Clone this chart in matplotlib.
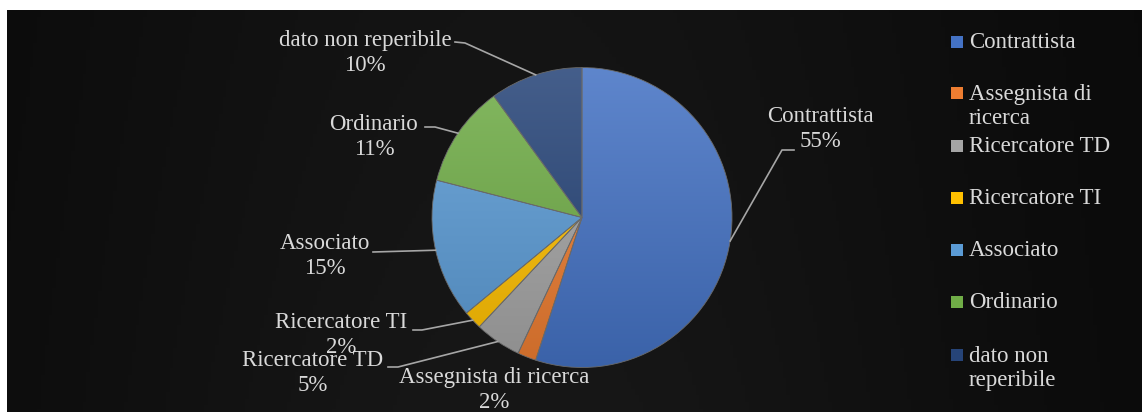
import numpy as np
import matplotlib.pyplot as plt
from matplotlib.colors import LinearSegmentedColormap, to_rgb
from matplotlib.patches import Rectangle

categories = ["Contrattista", "Assegnista di ricerca", "Ricercatore TD",
              "Ricercatore TI", "Associato", "Ordinario", "dato non reperibile"]
shares = [55, 2, 5, 2, 15, 11, 10]
legend_labels = ["Contrattista", "Assegnista di\nricerca", "Ricercatore TD",
                 "Ricercatore TI", "Associato", "Ordinario", "dato non\nreperibile"]
colors = ["#4472C4", "#ED7D31", "#A5A5A5", "#FFC000", "#5B9BD5", "#70AD47", "#264478"]

W, H = 1142, 412
def Y(y):
    # image pixel rows -> data y
    return H - y

txt_col = "#d9d9d9"
line_col = "#a6a6a6"
fs = 16.5
plt.rcParams['font.family'] = ['Liberation Serif', 'DejaVu Serif']

fig = plt.figure(figsize=(W / 100, H / 100), dpi=100)
ax = fig.add_axes([0, 0, 1, 1])
ax.axis('off')

# dark background panel with soft gradient
gx = np.linspace(0, 1, 300)
gy = np.linspace(0, 1, 120)
GX, GY = np.meshgrid(gx, gy)
val = 0.035 + 0.055 * np.exp(-((GX - 0.45) / 0.42) ** 2) * (0.8 + 0.2 * GY)
bg = np.dstack([val, val, val])
ax.imshow(bg, extent=[7, W, 0, Y(10)], aspect='auto', zorder=0, origin='upper')

# pie
cx, cy, r = 582, Y(217.5), 150
wedges, _ = ax.pie(shares, colors=colors, startangle=90, counterclock=False,
                   center=(cx, cy), radius=r,
                   wedgeprops=dict(linewidth=0.6, edgecolor='#6a6a6a'))

for w, c in zip(wedges, colors):
    base = np.array(to_rgb(c))
    top = base + (1 - base) * 0.14
    bot = base * 0.86
    cm = LinearSegmentedColormap.from_list('g', [top, bot])
    grad = np.linspace(0, 1, 256).reshape(-1, 1)
    im = ax.imshow(grad, cmap=cm, extent=[cx - r, cx + r, cy - r, cy + r],
                   aspect='auto', origin='upper', zorder=2)
    im.set_clip_path(w)
    w.set_facecolor('none')
    w.set_zorder(3)

# data labels: text centre (image px) and leader line bend points
label_pos = {
    "Contrattista": (820, 129),
    "Assegnista di ricerca": (494, 390),
    "Ricercatore TD": (313, 373),
    "Ricercatore TI": (341, 335),
    "Associato": (325, 256),
    "Ordinario": (374, 137),
    "dato non reperibile": (365, 53),
}
leader = {
    "Contrattista": [(794, 150), (782, 150)],
    "Ricercatore TD": [(388, 367), (398, 367)],
    "Ricercatore TI": [(413, 330), (422, 330)],
    "Associato": [(373, 252)],
    "Ordinario": [(425, 127), (435, 127)],
    "dato non reperibile": [(455, 42), (465, 43)],
}

for w, name, v in zip(wedges, categories, shares):
    tx, ty = label_pos[name]
    ax.text(tx, Y(ty), f"{name}\n{v}%", ha='center', va='center',
            multialignment='center', color=txt_col, fontsize=fs,
            linespacing=1.22, zorder=5)
    if name in leader:
        mid = np.deg2rad((w.theta1 + w.theta2) / 2)
        ex, ey = cx + r * np.cos(mid), cy + r * np.sin(mid)
        pts = [(px, Y(py)) for px, py in leader[name]] + [(ex, ey)]
        xs, ys = zip(*pts)
        ax.plot(xs, ys, color=line_col, lw=1.2, zorder=4)

# legend
leg_y = [42, 93, 146, 198, 250, 302, 355]
for lab, c, ly in zip(legend_labels, colors, leg_y):
    ax.add_patch(Rectangle((951, Y(ly) - 6), 12, 12, facecolor=c,
                           edgecolor='none', zorder=5))
    nlines = lab.count("\n") + 1
    ax.text(969, Y(ly) - (nlines - 1) * 13.5, lab, ha='left', va='center',
            color=txt_col, fontsize=fs, linespacing=1.22, zorder=5)

ax.set_xlim(0, W)
ax.set_ylim(0, H)
ax.set_aspect('auto')
fig.savefig("out.png", dpi=100, facecolor='white')
